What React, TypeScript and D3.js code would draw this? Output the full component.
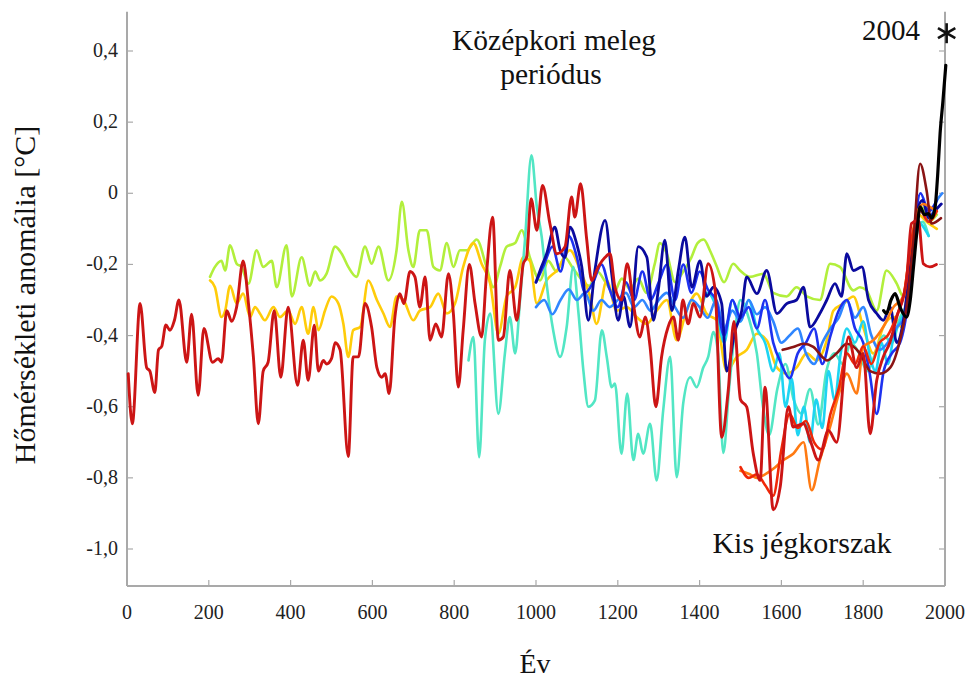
import React from "react";
import * as d3 from "d3";

type P = [number, number];

const xTicks = [0, 200, 400, 600, 800, 1000, 1200, 1400, 1600, 1800, 2000];
const yTicks = [0.4, 0.2, 0, -0.2, -0.4, -0.6, -0.8, -1.0];
const yTickLabels = ["0,4", "0,2", "0", "-0,2", "-0,4", "-0,6", "-0,8", "-1,0"];

const lightGreen: P[] = [[203,-0.235],[215,-0.207],[231,-0.19],[240,-0.217],[252,-0.146],[268,-0.198],[280,-0.207],[297,-0.254],[317,-0.16],[333,-0.207],[354,-0.19],[366,-0.264],[390,-0.146],[403,-0.29],[427,-0.18],[447,-0.26],[460,-0.22],[472,-0.245],[488,-0.226],[509,-0.15],[525,-0.17],[541,-0.207],[561,-0.235],[582,-0.15],[598,-0.198],[615,-0.15],[639,-0.245],[659,-0.16],[672,-0.024],[688,-0.16],[700,-0.207],[716,-0.104],[733,-0.104],[749,-0.207],[765,-0.217],[782,-0.14],[798,-0.207],[814,-0.16],[831,-0.16],[855,-0.13],[879,-0.207],[896,-0.264],[912,-0.207],[928,-0.15],[949,-0.14],[965,-0.104],[985,-0.18],[1010,-0.245],[1030,-0.19],[1050,-0.22],[1070,-0.18],[1090,-0.21],[1110,-0.24],[1130,-0.26],[1150,-0.22],[1170,-0.25],[1190,-0.28],[1210,-0.24],[1230,-0.27],[1250,-0.24],[1270,-0.28],[1290,-0.2],[1303,-0.14],[1320,-0.17],[1340,-0.25],[1360,-0.22],[1380,-0.18],[1395,-0.14],[1410,-0.13],[1425,-0.16],[1440,-0.2],[1460,-0.25],[1482,-0.198],[1499,-0.217],[1523,-0.235],[1556,-0.226],[1580,-0.28],[1613,-0.29],[1637,-0.264],[1662,-0.29],[1694,-0.3],[1719,-0.198],[1743,-0.207],[1776,-0.273],[1792,-0.264],[1808,-0.273],[1833,-0.33],[1857,-0.217],[1882,-0.254],[1898,-0.29],[1915,-0.18],[1930,-0.07],[1945,-0.04],[1960,-0.08],[1980,-0.06]];

const yellow: P[] = [[203,-0.245],[215,-0.264],[231,-0.348],[240,-0.33],[252,-0.26],[268,-0.31],[284,-0.282],[301,-0.348],[313,-0.32],[325,-0.338],[337,-0.357],[358,-0.32],[374,-0.348],[394,-0.33],[411,-0.367],[427,-0.32],[443,-0.395],[456,-0.32],[468,-0.385],[484,-0.33],[500,-0.29],[517,-0.31],[529,-0.367],[541,-0.46],[553,-0.385],[570,-0.376],[590,-0.245],[611,-0.3],[627,-0.338],[643,-0.376],[659,-0.29],[676,-0.3],[700,-0.357],[716,-0.33],[741,-0.32],[761,-0.282],[782,-0.338],[802,-0.31],[822,-0.207],[847,-0.14],[867,-0.198],[888,-0.254],[908,-0.395],[928,-0.29],[949,-0.264],[969,-0.18],[985,-0.19],[1002,-0.31],[1026,-0.245],[1051,-0.217],[1083,-0.16],[1108,-0.217],[1132,-0.29],[1148,-0.367],[1173,-0.245],[1197,-0.33],[1222,-0.32],[1246,-0.348],[1271,-0.367],[1295,-0.33],[1320,-0.3],[1344,-0.413],[1368,-0.33],[1393,-0.282],[1417,-0.338],[1442,-0.357],[1466,-0.5],[1491,-0.46],[1515,-0.44],[1540,-0.395],[1564,-0.413],[1589,-0.49],[1613,-0.507],[1637,-0.49],[1662,-0.45],[1686,-0.47],[1711,-0.413],[1727,-0.33],[1752,-0.31],[1776,-0.29],[1800,-0.376],[1825,-0.45],[1849,-0.376],[1874,-0.348],[1894,-0.376],[1915,-0.2],[1935,-0.06],[1955,-0.08],[1980,-0.1]];

const aquamarine: P[] = [[835,-0.47],[847,-0.404],[861,-0.742],[875,-0.413],[888,-0.338],[908,-0.62],[924,-0.45],[936,-0.348],[949,-0.45],[961,-0.3],[973,-0.132],[989,0.107],[1002,-0.038],[1014,-0.123],[1026,-0.254],[1042,-0.385],[1059,-0.46],[1075,-0.376],[1091,-0.207],[1104,-0.338],[1116,-0.5],[1128,-0.6],[1144,-0.582],[1161,-0.385],[1173,-0.46],[1185,-0.545],[1193,-0.535],[1209,-0.732],[1223,-0.563],[1238,-0.75],[1250,-0.676],[1262,-0.732],[1279,-0.648],[1295,-0.807],[1311,-0.61],[1328,-0.46],[1344,-0.798],[1360,-0.59],[1377,-0.517],[1393,-0.545],[1409,-0.49],[1421,-0.46],[1434,-0.39],[1445,-0.45],[1458,-0.73],[1472,-0.55],[1487,-0.38],[1500,-0.3],[1520,-0.35],[1540,-0.45],[1555,-0.6],[1570,-0.68],[1590,-0.55],[1610,-0.48],[1630,-0.58],[1650,-0.62],[1670,-0.55],[1690,-0.65],[1710,-0.5],[1730,-0.45],[1750,-0.48],[1770,-0.42],[1790,-0.45],[1810,-0.5],[1830,-0.45],[1850,-0.4],[1870,-0.42],[1890,-0.35],[1910,-0.3],[1930,-0.12],[1945,-0.08],[1960,-0.12]];

const cyan: P[] = [[1402,-0.33],[1420,-0.28],[1440,-0.32],[1460,-0.42],[1480,-0.3],[1500,-0.36],[1520,-0.3],[1540,-0.38],[1560,-0.42],[1580,-0.5],[1595,-0.45],[1610,-0.6],[1625,-0.52],[1640,-0.68],[1655,-0.6],[1670,-0.7],[1685,-0.58],[1700,-0.66],[1715,-0.5],[1730,-0.58],[1745,-0.45],[1760,-0.38],[1780,-0.42],[1800,-0.36],[1815,-0.45],[1830,-0.5],[1845,-0.42],[1860,-0.48],[1875,-0.4],[1890,-0.36],[1905,-0.32],[1920,-0.2],[1935,-0.08],[1950,-0.1],[1960,-0.12]];

const lightBlue: P[] = [[1000,-0.32],[1020,-0.3],[1040,-0.34],[1060,-0.3],[1080,-0.27],[1100,-0.3],[1120,-0.28],[1140,-0.33],[1160,-0.3],[1180,-0.32],[1200,-0.3],[1220,-0.28],[1240,-0.32],[1260,-0.3],[1280,-0.33],[1300,-0.3],[1320,-0.28],[1340,-0.32],[1360,-0.35],[1380,-0.3],[1400,-0.32],[1420,-0.35],[1440,-0.3],[1460,-0.38],[1480,-0.33],[1500,-0.36],[1520,-0.3],[1540,-0.34],[1560,-0.32],[1580,-0.36],[1600,-0.42],[1620,-0.4],[1640,-0.38],[1660,-0.45],[1680,-0.48],[1700,-0.42],[1720,-0.38],[1740,-0.35],[1760,-0.3],[1780,-0.35],[1800,-0.32],[1820,-0.4],[1840,-0.44],[1860,-0.42],[1880,-0.38],[1900,-0.35],[1920,-0.2],[1940,-0.05],[1960,-0.08],[1980,-0.02],[1993,0.0]];

const blue: P[] = [[1000,-0.25],[1020,-0.2],[1040,-0.15],[1060,-0.22],[1080,-0.12],[1100,-0.18],[1120,-0.28],[1140,-0.25],[1160,-0.2],[1180,-0.27],[1200,-0.32],[1220,-0.25],[1240,-0.3],[1260,-0.22],[1280,-0.3],[1300,-0.25],[1320,-0.2],[1340,-0.3],[1360,-0.2],[1380,-0.28],[1400,-0.22],[1420,-0.27],[1440,-0.3],[1460,-0.4],[1480,-0.3],[1500,-0.35],[1520,-0.32],[1540,-0.38],[1560,-0.3],[1580,-0.42],[1600,-0.48],[1620,-0.52],[1640,-0.45],[1660,-0.42],[1680,-0.38],[1700,-0.48],[1720,-0.4],[1740,-0.33],[1760,-0.3],[1780,-0.38],[1800,-0.42],[1815,-0.5],[1833,-0.62],[1850,-0.5],[1870,-0.45],[1890,-0.42],[1910,-0.3],[1925,-0.1],[1940,0.0],[1960,-0.05],[1980,-0.02]];

const darkBlue: P[] = [[1000,-0.25],[1010,-0.217],[1026,-0.17],[1046,-0.095],[1059,-0.16],[1071,-0.18],[1083,-0.095],[1099,-0.14],[1112,-0.207],[1128,-0.357],[1144,-0.217],[1169,-0.076],[1185,-0.226],[1201,-0.357],[1214,-0.29],[1230,-0.376],[1250,-0.15],[1271,-0.18],[1287,-0.357],[1299,-0.273],[1315,-0.132],[1332,-0.33],[1348,-0.217],[1364,-0.123],[1381,-0.264],[1401,-0.19],[1417,-0.29],[1434,-0.264],[1454,-0.31],[1466,-0.5],[1487,-0.385],[1503,-0.33],[1515,-0.235],[1540,-0.282],[1564,-0.217],[1589,-0.338],[1613,-0.31],[1637,-0.3],[1654,-0.264],[1670,-0.376],[1694,-0.338],[1711,-0.3],[1731,-0.254],[1747,-0.29],[1760,-0.17],[1776,-0.217],[1797,-0.207],[1813,-0.3],[1833,-0.338],[1849,-0.357],[1866,-0.32],[1882,-0.42],[1898,-0.36],[1915,-0.2],[1930,-0.06],[1945,-0.02],[1960,-0.07],[1975,-0.05],[1991,-0.03]];

const orange: P[] = [[1500,-0.78],[1523,-0.79],[1540,-0.8],[1560,-0.79],[1585,-0.77],[1605,-0.75],[1629,-0.732],[1654,-0.7],[1674,-0.835],[1694,-0.75],[1719,-0.657],[1743,-0.554],[1760,-0.507],[1784,-0.563],[1800,-0.432],[1825,-0.413],[1849,-0.376],[1874,-0.32],[1898,-0.29],[1915,-0.15],[1931,-0.057],[1947,-0.03],[1963,-0.038],[1980,-0.05]];

const redOrange: P[] = [[1500,-0.77],[1520,-0.8],[1540,-0.79],[1560,-0.82],[1580,-0.85],[1600,-0.72],[1620,-0.62],[1640,-0.66],[1660,-0.64],[1680,-0.7],[1700,-0.72],[1720,-0.62],[1740,-0.55],[1760,-0.45],[1780,-0.48],[1800,-0.43],[1820,-0.48],[1840,-0.42],[1860,-0.4],[1880,-0.35],[1900,-0.28],[1920,-0.12],[1940,-0.05],[1960,-0.08],[1980,-0.05]];

const maroon: P[] = [[1603,-0.44],[1629,-0.432],[1654,-0.423],[1678,-0.432],[1700,-0.46],[1711,-0.47],[1735,-0.45],[1760,-0.423],[1792,-0.45],[1817,-0.5],[1841,-0.507],[1866,-0.49],[1890,-0.413],[1906,-0.32],[1923,-0.132],[1939,0.083],[1955,0.008],[1967,-0.085],[1990,-0.07]];

const red: P[] = [[3,-0.507],[13,-0.648],[32,-0.31],[48,-0.49],[56,-0.5],[68,-0.56],[77,-0.44],[85,-0.43],[95,-0.37],[105,-0.385],[116,-0.357],[127,-0.3],[146,-0.475],[158,-0.34],[174,-0.568],[188,-0.38],[209,-0.475],[223,-0.465],[231,-0.475],[244,-0.33],[256,-0.36],[268,-0.32],[284,-0.19],[297,-0.31],[309,-0.46],[321,-0.648],[333,-0.5],[345,-0.475],[360,-0.33],[376,-0.517],[394,-0.32],[417,-0.54],[431,-0.413],[443,-0.526],[458,-0.371],[468,-0.5],[480,-0.47],[488,-0.48],[500,-0.465],[509,-0.42],[521,-0.44],[541,-0.74],[553,-0.46],[566,-0.46],[582,-0.31],[598,-0.376],[611,-0.49],[623,-0.517],[631,-0.507],[641,-0.563],[655,-0.348],[667,-0.282],[677,-0.31],[692,-0.22],[704,-0.235],[716,-0.32],[729,-0.235],[741,-0.413],[755,-0.367],[769,-0.404],[786,-0.226],[798,-0.338],[810,-0.545],[822,-0.385],[837,-0.2],[851,-0.31],[867,-0.404],[879,-0.226],[894,-0.067],[908,-0.413],[920,-0.404],[936,-0.217],[953,-0.357],[969,-0.198],[977,-0.18],[988,-0.015],[1002,-0.104],[1016,0.022],[1034,-0.085],[1051,-0.17],[1071,-0.15],[1087,-0.01],[1095,-0.067],[1109,0.027],[1124,-0.13],[1136,-0.245],[1152,-0.207],[1169,-0.18],[1181,-0.17],[1193,-0.264],[1209,-0.3],[1223,-0.198],[1238,-0.31],[1254,-0.404],[1267,-0.348],[1279,-0.432],[1293,-0.6],[1307,-0.46],[1323,-0.376],[1336,-0.348],[1348,-0.413],[1359,-0.3],[1372,-0.367],[1385,-0.31],[1401,-0.348],[1421,-0.198],[1438,-0.273],[1454,-0.686],[1470,-0.554],[1484,-0.36],[1500,-0.58],[1515,-0.6],[1531,-0.73],[1548,-0.807],[1560,-0.545],[1580,-0.89],[1597,-0.826],[1617,-0.6],[1629,-0.657],[1654,-0.648],[1672,-0.7],[1690,-0.75],[1715,-0.667],[1735,-0.7],[1764,-0.404],[1784,-0.49],[1800,-0.45],[1817,-0.676],[1833,-0.526],[1849,-0.46],[1865,-0.42],[1882,-0.348],[1906,-0.245],[1918,-0.085],[1935,-0.076],[1947,-0.198],[1963,-0.207],[1979,-0.2]];

const instrumental: P[] = [[1850,-0.33],[1857,-0.338],[1868,-0.3],[1878,-0.282],[1890,-0.32],[1906,-0.348],[1915,-0.3],[1923,-0.207],[1932,-0.1],[1939,-0.038],[1950,-0.06],[1959,-0.057],[1968,-0.07],[1976,-0.038],[1982,0.05],[1988,0.168],[1995,0.26],[2002,0.36]];

const marker2004: P = [2004, 0.45];

const seriesList: { data: P[]; color: string; width: number }[] = [
  { data: lightGreen, color: "#b2ef3c", width: 2.6 },
  { data: yellow, color: "#ffcc0a", width: 2.6 },
  { data: aquamarine, color: "#52e6c4", width: 2.6 },
  { data: cyan, color: "#1ed4f2", width: 2.6 },
  { data: lightBlue, color: "#2f86ff", width: 2.6 },
  { data: blue, color: "#1e32f0", width: 2.6 },
  { data: darkBlue, color: "#0a0a9e", width: 2.8 },
  { data: orange, color: "#ff7a12", width: 2.6 },
  { data: redOrange, color: "#f02808", width: 2.6 },
  { data: maroon, color: "#8a1414", width: 2.6 },
  { data: red, color: "#cc1515", width: 2.9 },
  { data: instrumental, color: "#000000", width: 3.2 },
];

const FONT = '"Liberation Serif", "DejaVu Serif", "Times New Roman", Times, serif';

export default function App() {
  const W = 971;
  const H = 688;
  const x = d3.scaleLinear().domain([0, 2000]).range([127, 945]);
  const y = d3.scaleLinear().domain([-1.0, 0.4]).range([549, 51]);
  const yBottom = -1.104;
  const yTop = 0.51;
  const axisColor = "#a9a9a9";
  const line = d3
    .line<P>()
    .x((d) => x(d[0]))
    .y((d) => y(d[1]))
    .curve(d3.curveMonotoneX);

  const mx = x(marker2004[0]);
  const my = y(marker2004[1]);
  const armLen = 10;
  const arms = [90, 30, 150].map((a) => {
    const r = (a * Math.PI) / 180;
    return [mx - armLen * Math.cos(r), my - armLen * Math.sin(r), mx + armLen * Math.cos(r), my + armLen * Math.sin(r)];
  });
  const ts = { fontFamily: FONT };

  return (
    <svg width={W} height={H} style={{ position: "absolute", left: 0, top: 0, background: "#fff" }}>
      <rect x={0} y={0} width={W} height={H} fill="#fff" />
      <line x1={x(0)} x2={x(0)} y1={y(yTop)} y2={y(yBottom)} stroke={axisColor} strokeWidth={2} />
      <line x1={x(2000)} x2={x(2000)} y1={y(yTop)} y2={y(yBottom)} stroke={axisColor} strokeWidth={2} />
      <line x1={x(0)} x2={x(2000)} y1={y(yBottom)} y2={y(yBottom)} stroke={axisColor} strokeWidth={2} />
      {yTicks.map((t, i) => (
        <g key={"y" + i}>
          <line x1={x(0)} x2={x(0) + 6} y1={y(t)} y2={y(t)} stroke={axisColor} strokeWidth={1.2} />
          <line x1={x(2000) - 6} x2={x(2000)} y1={y(t)} y2={y(t)} stroke={axisColor} strokeWidth={1.2} />
          <text x={118} y={y(t) + 6} textAnchor="end" fontSize={20} fill="#222" style={ts}>
            {yTickLabels[i]}
          </text>
        </g>
      ))}
      {xTicks.map((t, i) => (
        <g key={"x" + i}>
          <line x1={x(t)} x2={x(t)} y1={y(yBottom)} y2={y(yBottom) - 6} stroke={axisColor} strokeWidth={1.2} />
          <text x={x(t)} y={619} textAnchor="middle" fontSize={20} fill="#222" style={ts}>
            {t}
          </text>
        </g>
      ))}
      {seriesList.map((s, i) => (
        <path key={"s" + i} d={line(s.data) || ""} fill="none" stroke={s.color} strokeWidth={s.width} strokeLinejoin="round" strokeLinecap="round" />
      ))}
      {arms.map((a, i) => (
        <line key={"a" + i} x1={a[0]} y1={a[1]} x2={a[2]} y2={a[3]} stroke="#111" strokeWidth={2.6} />
      ))}
      <text x={920} y={40} textAnchor="end" fontSize={29} fill="#111" style={ts}>2004</text>
      <text x={554} y={50} textAnchor="middle" fontSize={29.5} fill="#111" style={ts}>Középkori meleg</text>
      <text x={551} y={84} textAnchor="middle" fontSize={29.5} fill="#111" style={ts}>periódus</text>
      <text x={802} y={553} textAnchor="middle" fontSize={30} fill="#111" style={ts}>Kis jégkorszak</text>
      <text x={535} y={673} textAnchor="middle" fontSize={28} fill="#111" style={ts}>Év</text>
      <text transform={`translate(35,295) rotate(-90)`} textAnchor="middle" fontSize={30} fill="#111" style={ts}>
        Hőmérsékleti anomália [°C]
      </text>
    </svg>
  );
}
